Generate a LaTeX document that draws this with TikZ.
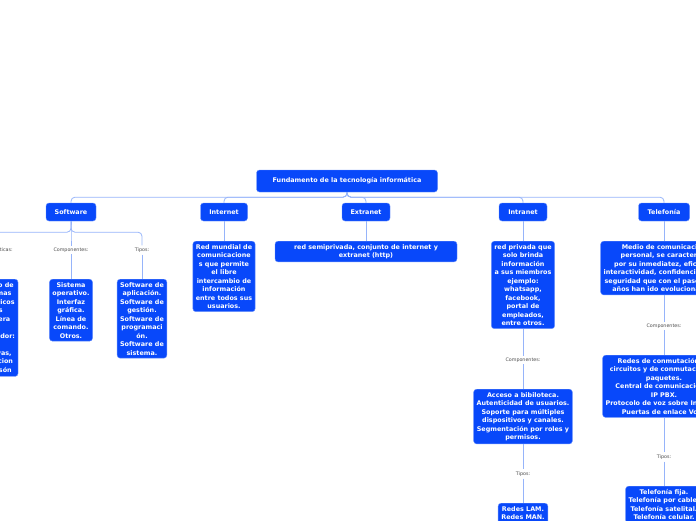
\documentclass[tikz,border=0pt]{standalone}
\usepackage{fontspec}
\setmainfont{DejaVu Sans}
\begin{document}
\begin{tikzpicture}[x=1pt,y=-1pt,
 box/.style={fill=boxblue,draw=boxblue!60!white,line width=0.4pt,rounded corners=3pt,text=white,font=\fontsize{6.4}{8.5}\selectfont\bfseries,align=center,inner xsep=3pt,inner ysep=3pt},
 lbl/.style={font=\fontsize{4.8}{5}\selectfont,text=black!70,inner sep=2pt},
 con/.style={draw=linkblue,line width=0.8pt,rounded corners=4pt}]
\definecolor{boxblue}{RGB}{8,72,250}
\definecolor{linkblue}{RGB}{150,180,250}
\useasboundingbox (0,0) rectangle (696,520);
\clip (0,0) rectangle (696,520);
\node[box,minimum width=181pt,minimum height=22pt] (root) at (347,181) {Fundamento de la tecnología informática};
\node[box,minimum width=50pt,minimum height=18pt] (sw) at (71,212) {Software};
\node[box,minimum width=47pt,minimum height=18pt] (in) at (224,212) {Internet};
\node[box,minimum width=48pt,minimum height=18pt] (ex) at (366,212) {Extranet};
\node[box,minimum width=48pt,minimum height=18pt] (ia) at (523,212) {Intranet};
\node[box,minimum width=51pt,minimum height=18pt] (te) at (664,212) {Telefonía};
\foreach \c in {sw,in,ex,ia,te} \draw[con] (root.south) -- ++(0,5) -| (\c.north);
% Software
\node[lbl] (swl1) at (-6,250) {Características:};
\node[lbl] (swl2) at (71,250) {Componentes:};
\node[lbl] (swl3) at (142,250) {Tipos:};
\foreach \c in {swl1,swl2,swl3} \draw[con] (sw.south) -- ++(0,11) -| (\c.north);
\node[box,anchor=north] (sw1) at (-8,279) {Conjunto de\\programas\\informáticos\\de los\\que opera\\un\\computador:\\con\\iniciativas,\\transascion\\y televisón};
\node[box,anchor=north] (sw2) at (71,279) {Sistema\\operativo.\\Interfaz\\gráfica.\\Línea de\\comando.\\Otros.};
\node[box,anchor=north] (sw3) at (142,279) {Software de\\aplicación.\\Software de\\gestión.\\Software de\\programaci\\ón.\\Software de\\sistema.};
\draw[con] (swl1.south) -- (sw1.north -| swl1.south);
\draw[con] (swl2.south) -- (sw2.north);
\draw[con] (swl3.south) -- (sw3.north);
% Internet
\node[box,anchor=north] (in1) at (224,241) {Red mundial de\\comunicacione\\s que permite\\el libre\\intercambio de\\información\\entre todos sus\\usuarios.};
\draw[con] (in.south) -- (in1.north);
% Extranet
\node[box,anchor=north,minimum width=182pt] (ex1) at (366,241) {red semiprivada, conjunto de internet y\\extranet (http)};
\draw[con] (ex.south) -- (ex1.north);
% Intranet
\node[box,anchor=north] (ia1) at (523,241) {red privada que\\solo brinda\\información\\a sus miembros\\ejemplo:\\whatsapp,\\facebook,\\portal de\\empleados,\\entre otros.};
\draw[con] (ia.south) -- (ia1.north);
\node[lbl] (ial1) at (523,360) {Componentes:};
\draw[con] (ia1.south) -- (ial1.north);
\node[box,anchor=north] (ia2) at (523,389) {Acceso a bibiloteca.\\Autenticidad de usuarios.\\Soporte para múltiples\\dispositivos y canales.\\Segmentación por roles y\\permisos.};
\draw[con] (ial1.south) -- (ia2.north);
\node[lbl] (ial2) at (523,474) {Tipos:};
\draw[con] (ia2.south) -- (ial2.north);
\node[box,anchor=north] (ia3) at (523,503) {Redes LAM.\\Redes MAN.\\Redes WAN.};
\draw[con] (ial2.south) -- (ia3.north);
% Telefonia
\node[box,anchor=north] (te1) at (664,241) {Medio de comunicación\\personal, se caracteriza\\por su inmediatez, eficacia,\\interactividad, confidencialidad y\\seguridad que con el paso de los\\años han ido evolucionando.};
\draw[con] (te.south) -- (te1.north);
\node[lbl] (tel1) at (664,326) {Componentes:};
\draw[con] (te1.south) -- (tel1.north);
\node[box,anchor=north] (te2) at (664,355) {Redes de conmutación de\\circuitos y de conmutación de\\paquetes.\\Central de comunicaciones\\IP PBX.\\Protocolo de voz sobre Internet.\\Puertas de enlace VoIP.};
\draw[con] (tel1.south) -- (te2.north);
\node[lbl] (tel2) at (664,457) {Tipos:};
\draw[con] (te2.south) -- (tel2.north);
\node[box,anchor=north] (te3) at (664,486) {Telefonía fija.\\Telefonía por cable.\\Telefonía satelital.\\Telefonía celular.};
\draw[con] (tel2.south) -- (te3.north);
\end{tikzpicture}
\end{document}
